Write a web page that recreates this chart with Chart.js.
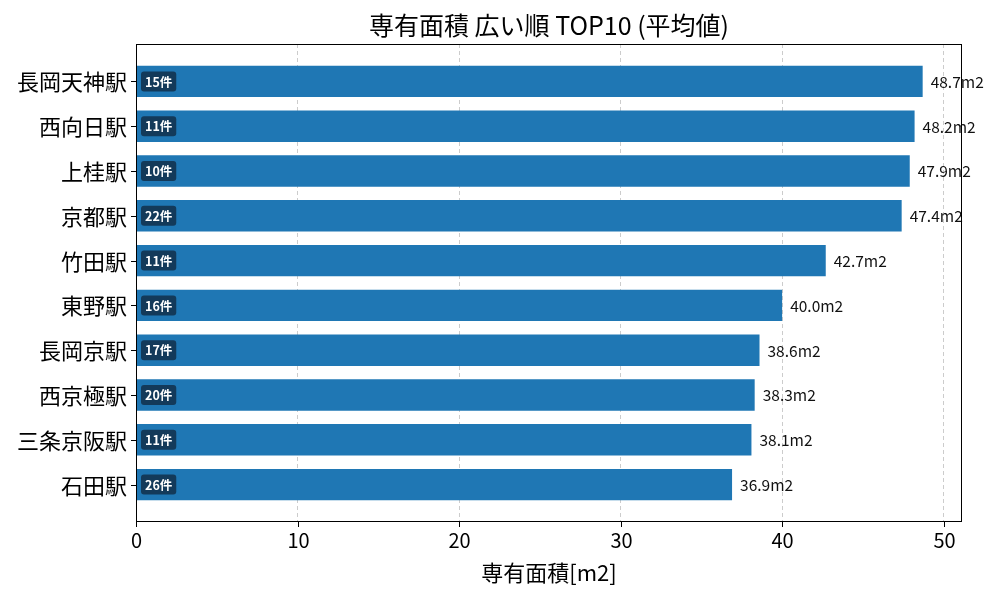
<!DOCTYPE html>
<html>
<head>
<meta charset="utf-8">
<script src="https://cdn.jsdelivr.net/npm/chart.js@4/dist/chart.umd.min.js"></script>
<style>
  html, body { margin: 0; padding: 0; background: #fff; }
  #wrap { width: 1000px; height: 600px; }
</style>
</head>
<body>
<div id="wrap"><canvas id="areaChart"></canvas></div>
<script>
// Data
const stations = ["長岡天神駅", "西向日駅", "上桂駅", "京都駅", "竹田駅", "東野駅", "長岡京駅", "西京極駅", "三条京阪駅", "石田駅"];
const avgArea = [48.7, 48.2, 47.9, 47.4, 42.7, 40.0, 38.6, 38.3, 38.1, 36.9];
const counts = [15, 11, 10, 22, 11, 16, 17, 20, 11, 26];
const xTicks = [0, 10, 20, 30, 40, 50];

const FONT = '"Noto Sans CJK JP", "Noto Sans", sans-serif';

// Custom drawing: frame, labels, badges, titles
const decorPlugin = {
  id: 'decor',
  afterDatasetsDraw(chart) {
    const { ctx, chartArea: a, scales } = chart;
    const x = scales.x, y = scales.y;
    const meta = chart.getDatasetMeta(0);
    ctx.save();

    // badges and value labels
    meta.data.forEach((bar, i) => {
      const cy = bar.y;
      ctx.font = 'bold 12.5px ' + FONT;
      const txt = counts[i] + '件';
      const w = ctx.measureText(txt).width + 8;
      const bx = x.getPixelForValue(0) + 5;
      ctx.fillStyle = '#133a5a';
      ctx.beginPath();
      ctx.roundRect(bx, cy - 10, w, 20, 3);
      ctx.fill();
      ctx.fillStyle = '#fff';
      ctx.textAlign = 'left';
      ctx.textBaseline = 'middle';
      ctx.fillText(txt, bx + 4, cy + 0.5);

      ctx.font = '15.5px ' + FONT;
      ctx.fillStyle = '#111';
      ctx.fillText(avgArea[i].toFixed(1) + 'm2', bar.x + 8, cy + 0.5);
    });

    // frame
    ctx.strokeStyle = '#000';
    ctx.lineWidth = 1;
    ctx.strokeRect(a.left + 0.5, a.top + 0.5, a.right - a.left - 1, a.bottom - a.top - 1);

    // y tick marks and labels
    ctx.font = '22px ' + FONT;
    ctx.textAlign = 'right';
    ctx.textBaseline = 'middle';
    ctx.fillStyle = '#000';
    stations.forEach((s, i) => {
      const py = Math.round(y.getPixelForValue(i)) + 0.5;
      ctx.beginPath();
      ctx.moveTo(a.left - 5, py);
      ctx.lineTo(a.left, py);
      ctx.stroke();
      ctx.fillText(s, a.left - 9, py);
    });

    // x tick marks and labels
    ctx.font = '20px ' + FONT;
    ctx.textAlign = 'center';
    ctx.textBaseline = 'top';
    xTicks.forEach(t => {
      const px = Math.round(x.getPixelForValue(t)) + 0.5;
      ctx.beginPath();
      ctx.moveTo(px, a.bottom);
      ctx.lineTo(px, a.bottom + 5);
      ctx.stroke();
      ctx.fillText(String(t), px, a.bottom + 8);
    });

    // titles
    ctx.font = '22px ' + FONT;
    ctx.textBaseline = 'middle';
    ctx.fillText('専有面積[m2]', (a.left + a.right) / 2, 573);
    ctx.font = '25px ' + FONT;
    ctx.fillText('専有面積 広い順 TOP10 (平均値)', (a.left + a.right) / 2, 25);

    ctx.restore();
  }
};

const ctx = document.getElementById('areaChart').getContext('2d');
new Chart(ctx, {
  type: 'bar',
  data: {
    datasets: [{
      data: avgArea.map((v, i) => ({ x: v, y: i })),
      backgroundColor: '#1f77b4',
      borderWidth: 0,
      barPercentage: 0.7,
      categoryPercentage: 1.0
    }]
  },
  options: {
    indexAxis: 'y',
    responsive: true,
    maintainAspectRatio: false,
    animation: false,
    layout: { padding: { top: 44, right: 38, left: 0, bottom: 0 } },
    plugins: {
      legend: { display: false },
      tooltip: { enabled: false }
    },
    scales: {
      x: {
        type: 'linear',
        bounds: 'data',
        min: 0,
        max: 51.135,
        afterBuildTicks: (s) => { s.ticks = xTicks.map(v => ({ value: v })); },
        afterFit: (s) => { s.height = 78; },
        grid: {
          color: '#cccccc',
          drawTicks: false
        },
        border: { display: false, dash: [4, 3] },
        ticks: { display: false }
      },
      y: {
        type: 'linear',
        bounds: 'data',
        offset: false,
        reverse: true,
        min: -0.835,
        max: 9.835,
        afterBuildTicks: (s) => { s.ticks = stations.map((_, i) => ({ value: i })); },
        afterFit: (s) => { s.width = 136; },
        grid: { display: false, offset: false },
        border: { display: false },
        ticks: { display: false }
      }
    }
  },
  plugins: [decorPlugin]
});
</script>
</body>
</html>
